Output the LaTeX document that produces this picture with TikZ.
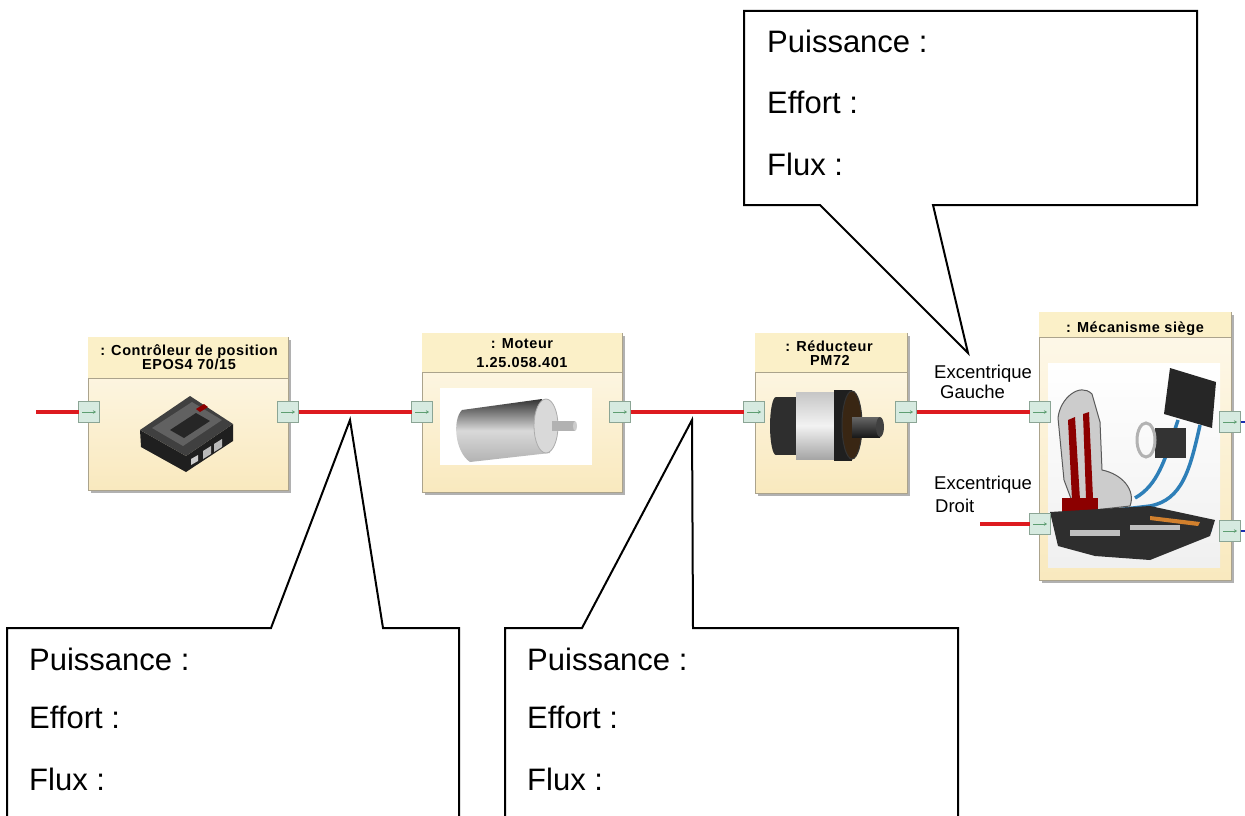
\documentclass[tikz,border=0pt]{standalone}
\usepackage{fontspec}
\setmainfont{Liberation Sans}
\newfontfamily\ttlfont[LetterSpace=4]{Liberation Sans}
\usetikzlibrary{arrows.meta,shadows}
\definecolor{hdr}{HTML}{FBF0C8}
\definecolor{bodytop}{HTML}{FEF9EC}
\definecolor{bodybot}{HTML}{F9E9BE}
\definecolor{bordc}{HTML}{ABA38C}
\definecolor{shadowc}{HTML}{A9A9A9}
\definecolor{portfill}{HTML}{D6EAE0}
\definecolor{portdraw}{HTML}{8BA595}
\definecolor{portarr}{HTML}{5E9E72}
\definecolor{flow}{HTML}{DD1A1F}
\definecolor{bluef}{HTML}{1A2FB0}
\definecolor{tube}{HTML}{2E7FB8}
\begin{document}
\begin{tikzpicture}[x=1pt,y=-1pt,
  blocknode/.style={rectangle, inner sep=0pt, outer sep=0pt, draw=bordc, line width=0.8pt,
    top color=bodytop, bottom color=bodybot,
    drop shadow={shadow xshift=3pt, shadow yshift=-3pt, fill=shadowc, opacity=0.9}},
  port/.style={rectangle, inner sep=0pt, outer sep=0pt, minimum width=21pt, minimum height=21pt,
    fill=portfill, draw=portdraw, line width=0.8pt},
  ttl/.style={inner sep=0pt, anchor=base, font=\fontsize{14.5}{13}\selectfont\ttlfont\bfseries},
  lbl/.style={inner sep=0pt, anchor=base west, font=\fontsize{18.5}{20}\selectfont},
  calltxt/.style={inner sep=0pt, anchor=base west, font=\fontsize{31}{37}\selectfont},
  callout/.style={draw=black, fill=white, line width=2pt, line join=miter},
  flowline/.style={draw=flow, line width=3.2pt},
  outline/.style={draw=bluef, line width=2.5pt}
]
\useasboundingbox[fill=white] (0,0) rectangle (1245,816);

% ---------- blocks ----------
\node[blocknode, minimum width=200pt, minimum height=153pt] (b1) at (188,413.5) {};
\fill[hdr] (88.4,337.4) rectangle (287.6,378);
\draw[bordc, line width=0.8pt] (88,378) -- (288,378);

\node[blocknode, minimum width=200pt, minimum height=159pt] (b2) at (522,412.5) {};
\fill[hdr] (422.4,333.4) rectangle (621.6,372);
\draw[bordc, line width=0.8pt] (422,372) -- (622,372);

\node[blocknode, minimum width=152pt, minimum height=160pt] (b3) at (831,413) {};
\fill[hdr] (755.4,333.4) rectangle (906.6,372);
\draw[bordc, line width=0.8pt] (755,372) -- (907,372);

\node[blocknode, minimum width=192pt, minimum height=268pt] (b4) at (1135,446) {};
\fill[hdr] (1039.4,312.4) rectangle (1230.6,337);
\draw[bordc, line width=0.8pt] (1039,337) -- (1231,337);

% titles
\node[ttl] (t1a) at (189,355.5) {: Contrôleur de position};
\node[ttl] (t1b) at (189,369.5) {EPOS4 70/15};
\node[ttl] (t2a) at (522,348) {: Moteur};
\node[ttl] (t2b) at (522,367) {1.25.058.401};
\node[ttl] (t3a) at (829,351) {: Réducteur};
\node[ttl] (t3b) at (830,365.5) {PM72};
\node[ttl] (t4a) at (1135,332) {: Mécanisme siège};

% ---------- images (simplified) ----------
% controller
\fill[black!88] (140,430) -- (186,456) -- (233,424) -- (233,441) -- (186,472) -- (141,447) -- cycle;
\fill[black!75] (140,430) -- (190,396) -- (233,424) -- (186,456) -- cycle;
\fill[black!62] (152,428) -- (192,402) -- (222,420) -- (183,446) -- cycle;
\fill[black!85] (170,430) -- (196,413) -- (210,421) -- (184,438) -- cycle;
\fill[red!55!black] (196,409) -- (204,404) -- (208,407) -- (200,412) -- cycle;
\fill[gray!55] (203,451) -- (211,446) -- (211,454) -- (203,459) -- cycle;
\fill[gray!55] (214,444) -- (222,439) -- (222,447) -- (214,452) -- cycle;
\fill[gray!40] (191,459) -- (198,455) -- (198,461) -- (191,465) -- cycle;

% motor
\fill[white] (440,388) rectangle (592,465);
\shade[top color=black!80, bottom color=gray!60, middle color=gray!30]
  (462,410) -- (542,399) -- (550,453) -- (470,462) .. controls (455,452) and (452,420) .. cycle;
\filldraw[fill=gray!30, draw=gray!65, line width=0.8pt] (546,426) ellipse [x radius=12, y radius=27];
\fill[gray!60] (552,421) rectangle (575,431);
\fill[gray!40] (575,426) ellipse [x radius=2, y radius=5];

% reducer
\fill[black!82] (776,397) rectangle (796,455);
\fill[black!82] (776,426) ellipse [x radius=6, y radius=29];
\shade[top color=gray!45, bottom color=gray!70, middle color=gray!10] (796,392) rectangle (834,459);
\fill[black!88] (834,390) rectangle (852,461);
\filldraw[fill=black!70!brown, draw=black!80, line width=1pt] (852,425) ellipse [x radius=10, y radius=34];
\shade[top color=black!60, bottom color=black!90] (852,417) rectangle (880,437);
\fill[black!75] (880,427) ellipse [x radius=4, y radius=10];

% seat mechanism
\shade[top color=white, bottom color=gray!12] (1048,363) rectangle (1220,567);
\fill[black!85] (1170,368) -- (1216,382) -- (1212,428) -- (1164,414) -- cycle;
\draw[tube, line width=3.5pt] (1200,425) .. controls (1190,470) and (1182,500) .. (1150,506) -- (1100,512);
\draw[tube, line width=3.5pt] (1178,420) .. controls (1165,460) and (1158,485) .. (1135,498);
\draw[tube, line width=3pt] (1100,522) -- (1212,530);
\fill[black!80] (1155,428) rectangle (1186,458);
\draw[gray!60, line width=3pt] (1146,440) ellipse [x radius=9, y radius=17];
\filldraw[fill=gray!40, draw=black!65, line width=1pt]
  (1058,418) .. controls (1060,398) and (1080,382) .. (1092,394) -- (1100,422) -- (1102,470)
  .. controls (1122,474) and (1136,490) .. (1130,506) -- (1076,512) -- (1064,480) -- cycle;
\fill[red!55!black] (1068,420) -- (1075,417) -- (1080,500) -- (1072,500) -- cycle;
\fill[red!55!black] (1083,414) -- (1089,412) -- (1093,498) -- (1086,498) -- cycle;
\fill[red!55!black] (1062,498) rectangle (1098,516);
\fill[black!82] (1050,512) -- (1150,506) -- (1215,520) -- (1210,536) -- (1150,560) -- (1095,556) -- (1058,546) -- cycle;
\fill[gray!50] (1070,530) rectangle (1120,536);
\fill[gray!50] (1130,525) rectangle (1180,530);
\fill[brown!70!orange] (1150,516) -- (1200,522) -- (1198,526) -- (1150,520) -- cycle;

% ---------- ports ----------
\node[port] (p1l) at (89,412) {};
\node[port] (p1r) at (288,412) {};
\node[port] (p2l) at (422,412) {};
\node[port] (p2r) at (620,412) {};
\node[port] (p3l) at (754,412) {};
\node[port] (p3r) at (906,412) {};
\node[port] (p4l1) at (1040,412) {};
\node[port] (p4l2) at (1040,524) {};
\node[port] (p4r1) at (1230,422) {};
\node[port] (p4r2) at (1230,531) {};
\foreach \p in {p1l,p1r,p2l,p2r,p3l,p3r,p4l1,p4l2,p4r1,p4r2}{
  \draw[portarr, line width=0.9pt, -{Stealth[length=3pt,width=3.5pt]}]
    ([xshift=-7pt]\p.center) -- ([xshift=7pt]\p.center);
}

% ---------- flows ----------
\coordinate (in1) at (36,412);
\coordinate (dr) at (980,524);
\coordinate (o1) at (1245,422);
\coordinate (o2) at (1245,531);
\draw[flowline] (in1) -- (p1l.west);
\draw[flowline] (p1r.east) -- (p2l.west);
\draw[flowline] (p2r.east) -- (p3l.west);
\draw[flowline] (p3r.east) -- (p4l1.west);
\draw[flowline] (dr) -- (p4l2.west);
\draw[outline] (p4r1.east) -- (o1);
\draw[outline] (p4r2.east) -- (o2);

% labels
\node[lbl] (eg1) at (934,378) {Excentrique};
\node[lbl] (eg2) at (940,398) {Gauche};
\node[lbl] (ed1) at (934,489) {Excentrique};
\node[lbl] (ed2) at (935,512) {Droit};

% ---------- callouts ----------
\filldraw[callout] (744,11) -- (1197,11) -- (1197,205) -- (933,205) -- (968,353) -- (820,205) -- (744,205) -- cycle;
\node[calltxt] (c1a) at (767,53) {Puissance :};
\node[calltxt] (c1b) at (767,113) {Effort :};
\node[calltxt] (c1c) at (767,175) {Flux :};

\filldraw[callout] (7,822) -- (7,628) -- (271,628) -- (350,420) -- (383,628) -- (459,628) -- (459,822);
\node[calltxt] (c2a) at (29,670) {Puissance :};
\node[calltxt] (c2b) at (29,728) {Effort :};
\node[calltxt] (c2c) at (29,790) {Flux :};

\filldraw[callout] (505,822) -- (505,628) -- (582,628) -- (692,420) -- (693,628) -- (958,628) -- (958,822);
\node[calltxt] (c3a) at (527,670) {Puissance :};
\node[calltxt] (c3b) at (527,728) {Effort :};
\node[calltxt] (c3c) at (527,790) {Flux :};
\end{tikzpicture}
\end{document}
